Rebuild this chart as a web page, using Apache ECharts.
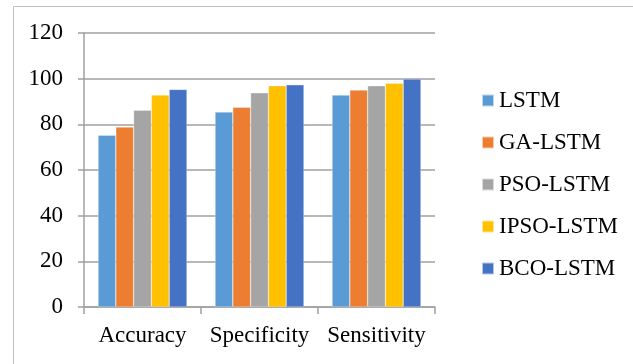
<!DOCTYPE html>
<html>
<head>
<meta charset="utf-8">
<script src="https://cdn.jsdelivr.net/npm/echarts@6/dist/echarts.min.js"></script>
<style>html,body{margin:0;padding:0;background:#fff;}#c{width:633px;height:364px;}</style>
</head>
<body>
<div id="c"></div>
<script>
var categories = ['Accuracy', 'Specificity', 'Sensitivity'];
var seriesNames = ['LSTM', 'GA-LSTM', 'PSO-LSTM', 'IPSO-LSTM', 'BCO-LSTM'];
var lstm = [75.2, 85.4, 92.8];
var gaLstm = [78.8, 87.5, 95.0];
var psoLstm = [86.2, 93.8, 96.9];
var ipsoLstm = [92.8, 96.9, 98.0];
var bcoLstm = [95.3, 97.3, 99.8];
var yTicks = [0, 20, 40, 60, 80, 100, 120];
var colors = ['#5B9BD5', '#ED7D31', '#A5A5A5', '#FFC000', '#4472C4'];
var values = [lstm, gaLstm, psoLstm, ipsoLstm, bcoLstm];

var font = '"Liberation Serif", "Times New Roman", serif';
var chart = echarts.init(document.getElementById('c'), null, {renderer: 'canvas'});
var series = seriesNames.map(function (n, i) {
  return {
    name: n, type: 'bar', data: values[i],
    barGap: '0%', barCategoryGap: '24%',
    itemStyle: {color: colors[i], borderColor: 'rgba(255,255,255,0.6)', borderWidth: 0.5},
    emphasis: {disabled: true}
  };
});
chart.setOption({
  animation: false,
  backgroundColor: '#fff',
  graphic: [{
    type: 'rect', left: 11, top: 4, z: -10,
    shape: {x: 0, y: 0, width: 640, height: 400},
    style: {fill: 'none', stroke: '#bfbfbf', lineWidth: 1}
  }],
  grid: {left: 84, right: 198, top: 33, bottom: 57, containLabel: false},
  legend: {
    orient: 'vertical', left: 476, top: 84, itemGap: 19,
    itemWidth: 12, itemHeight: 12, icon: 'rect',
    textStyle: {fontFamily: font, fontSize: 23, color: '#000', padding: [0, 0, 0, 0]},
    data: seriesNames
  },
  xAxis: {
    type: 'category', data: categories,
    axisLine: {lineStyle: {color: '#a0a0a0', width: 1.5}},
    axisTick: {show: true, length: 7, lineStyle: {color: '#a0a0a0', width: 1.5}},
    axisLabel: {fontFamily: font, fontSize: 23, color: '#000', margin: 17, interval: 0}
  },
  yAxis: {
    type: 'value', min: yTicks[0], max: yTicks[yTicks.length - 1], interval: 20,
    axisLine: {show: true, lineStyle: {color: '#a0a0a0', width: 1.5}},
    axisTick: {show: true, inside: false, length: 6, lineStyle: {color: '#a0a0a0', width: 1.5}},
    axisLabel: {fontFamily: font, fontSize: 23, color: '#000', margin: 21},
    splitLine: {show: true, lineStyle: {color: '#a0a0a0', width: 1.5}}
  },
  series: series
});
</script>
</body>
</html>
